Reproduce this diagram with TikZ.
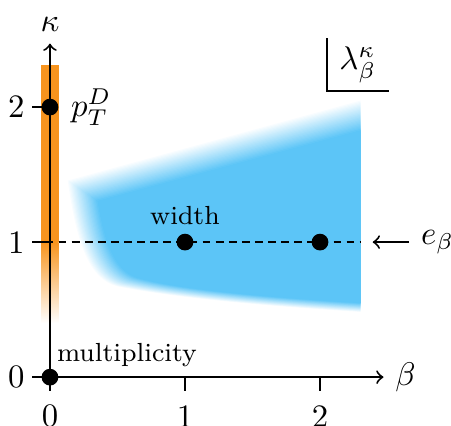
\documentclass[tikz,border=0pt]{standalone}
\definecolor{bandorange}{RGB}{247,148,30}
\definecolor{regionblue}{RGB}{92,197,247}
\begin{document}
\begin{tikzpicture}[>=to,x=1.45cm,y=1.45cm,semithick,
    dot/.style={circle,fill=black,inner sep=0pt,minimum size=0.18cm},
    txt/.style={font=\footnotesize}]
    \useasboundingbox (-0.370,-0.356) rectangle (2.970,2.793);

    % soft edged region of the widths
    \foreach \k in {1,...,24}
        \fill[regionblue,opacity={1/\k}]
            ({0.36-0.0095*\k},{1.30+0.0065*\k}) -- (2.30,{1.82+0.0095*\k}) -- (2.30,{0.55-0.0028*\k})
            .. controls (1.5,{0.60-0.0028*\k}) and (0.9,{0.66-0.0028*\k}) .. ({0.64-0.006*\k},{0.74-0.0028*\k})
            .. controls ({0.48-0.008*\k},{0.80-0.003*\k}) and ({0.41-0.009*\k},1.0) .. cycle;
    \fill[regionblue] (0.36,1.30) -- (2.30,1.82) -- (2.30,0.55)
        .. controls (1.5,0.60) and (0.9,0.66) .. (0.64,0.74)
        .. controls (0.48,0.80) and (0.41,1.0) .. cycle;

    % orange band on the kappa axis
    \fill[bandorange] (-0.065,1.0) rectangle (0.065,2.31);
    \shade[top color=bandorange,bottom color=white] (-0.065,0.40) rectangle (0.065,1.0);

    \coordinate (o) at (0,0);
    \coordinate (xtip) at (2.47,0);
    \coordinate (ytip) at (0,2.47);
    \coordinate (dl) at (-0.13,1);
    \coordinate (dr) at (2.30,1);
    \coordinate (etip) at (2.39,1);

    \draw[dashed,dash pattern=on 2.4pt off 1.6pt] (dl) -- (dr);

    \draw[->] (o) -- (xtip);
    \draw[->] (o) -- (ytip);
    \node[right] (beta) at (xtip) {$\beta$};
    \node[above] (kappa) at (ytip) {$\kappa$};

    \foreach \x in {0,1,2} {
        \draw (\x,0) -- (\x,-0.1);
        \node (xl\x) at (\x,-0.29) {\x};
    }
    \foreach \y in {0,1,2} {
        \draw (-0.13,\y) -- (0,\y);
        \node (yl\y) at (-0.25,\y) {\y};
    }

    \node[dot] (m) at (0,0) {};
    \node[dot] (p) at (0,2) {};
    \node[dot] (w1) at (1,1) {};
    \node[dot] (w2) at (2,1) {};

    \node[right] (pt) at (p.east) {$p_T^D$};
    \node[txt] (width) at (1,1.2) {width};
    \node[txt] (mult) at (0.57,0.16) {multiplicity};

    \node[right] (eb) at (2.66,1) {$e_\beta$};
    \draw[->] (eb) -- (etip);

    \node[inner sep=0pt,minimum width=0.64cm,minimum height=0.54cm] (lam) at (2.28,2.315) {$\lambda_\beta^\kappa$};
    \draw (lam.north west) |- (lam.south east);
\end{tikzpicture}
\end{document}
